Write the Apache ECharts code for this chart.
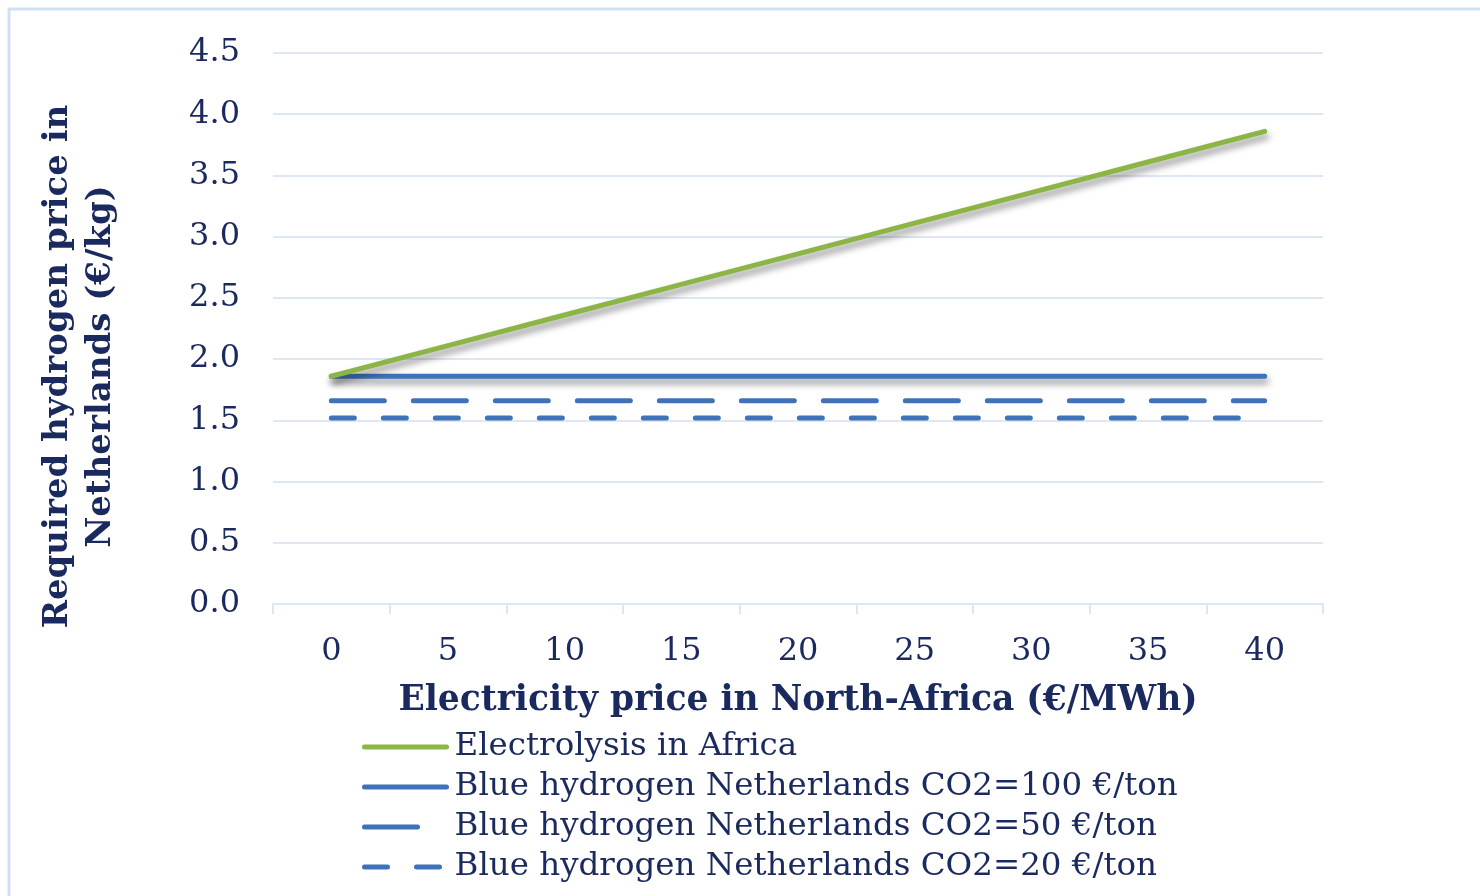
<!DOCTYPE html>
<html>
<head>
<meta charset="utf-8">
<script src="https://cdn.jsdelivr.net/npm/echarts@6/dist/echarts.min.js"></script>
<style>
  html, body { margin: 0; padding: 0; background: #ffffff; }
  #chart { width: 1480px; height: 896px; }
</style>
</head>
<body>
<div id="chart"></div>
<script>
// Electricity price in North-Africa (€/MWh)
var categories = ['0', '5', '10', '15', '20', '25', '30', '35', '40'];

// Required hydrogen price in the Netherlands (€/kg)
var electrolysisAfrica = [1.86, 2.11, 2.36, 2.61, 2.86, 3.11, 3.36, 3.61, 3.86];
var blueCO2_100 = [1.86, 1.86, 1.86, 1.86, 1.86, 1.86, 1.86, 1.86, 1.86];
var blueCO2_50 = [1.66, 1.66, 1.66, 1.66, 1.66, 1.66, 1.66, 1.66, 1.66];
var blueCO2_20 = [1.52, 1.52, 1.52, 1.52, 1.52, 1.52, 1.52, 1.52, 1.52];

var seriesNames = [
  'Electrolysis in Africa',
  'Blue hydrogen Netherlands CO2=100 €/ton',
  'Blue hydrogen Netherlands CO2=50 €/ton',
  'Blue hydrogen Netherlands CO2=20 €/ton'
];

var navy = '#1b2a5e';
var grid = '#dde7f3';
var green = '#8cb545';
var blue = '#3f72b9';
var font = 'DejaVu Serif';

var shadow = {
  shadowColor: 'rgba(0,0,0,0.45)',
  shadowBlur: 7,
  shadowOffsetX: 2,
  shadowOffsetY: 5
};

var chart = echarts.init(document.getElementById('chart'), null, { renderer: 'canvas' });

chart.setOption({
  backgroundColor: '#ffffff',
  animation: false,
  textStyle: { fontFamily: font, color: navy },
  graphic: [{
    type: 'rect',
    shape: { x: 9, y: 9, width: 1600, height: 1000 },
    style: { fill: 'none', stroke: '#d2e0f4', lineWidth: 3 },
    silent: true
  }],
  grid: { left: 273, right: 157, top: 53, bottom: 292, containLabel: false },
  legend: {
    orient: 'vertical',
    left: 362,
    top: 729,
    height: 160,
    padding: 0,
    itemWidth: 82,
    itemHeight: 20,
    itemGap: 4,
    itemStyle: { opacity: 0 },
    lineStyle: { width: 5, cap: 'round' },
    textStyle: { fontFamily: font, fontSize: 32.5, color: navy, lineHeight: 36, padding: [0, 0, 0, 3] },
    data: seriesNames
  },
  xAxis: {
    type: 'category',
    data: categories,
    boundaryGap: true,
    axisLine: { show: true, lineStyle: { color: grid, width: 2 } },
    axisTick: { show: true, length: 10, lineStyle: { color: grid, width: 2 } },
    axisLabel: { margin: 32, fontSize: 32, color: navy, fontFamily: font },
    splitLine: { show: false },
    name: 'Electricity price in North-Africa (€/MWh)',
    nameLocation: 'middle',
    nameGap: 80,
    nameTextStyle: { fontFamily: font, fontSize: 34.5, fontWeight: 'bold', color: navy }
  },
  yAxis: {
    type: 'value',
    min: 0,
    max: 4.5,
    interval: 0.5,
    axisLine: { show: false },
    axisTick: { show: false },
    axisLabel: {
      margin: 33,
      fontSize: 32,
      color: navy,
      fontFamily: font,
      formatter: function (v) { return v.toFixed(1); }
    },
    splitLine: { show: true, lineStyle: { color: grid, width: 2 } },
    name: 'Required hydrogen price in\nNetherlands (€/kg)',
    nameLocation: 'middle',
    nameGap: 150,
    nameTextStyle: {
      fontFamily: font, fontSize: 34, fontWeight: 'bold', color: navy,
      lineHeight: 43, padding: [0, 76, 0, 0]
    }
  },
  series: [
    {
      name: seriesNames[0], type: 'line', data: electrolysisAfrica,
      symbol: 'none', z: 5,
      lineStyle: Object.assign({ color: green, width: 5, cap: 'round' }, shadow),
      itemStyle: { color: green }
    },
    {
      name: seriesNames[1], type: 'line', data: blueCO2_100,
      symbol: 'none', z: 4,
      lineStyle: Object.assign({ color: blue, width: 5, cap: 'round' }, shadow),
      itemStyle: { color: blue }
    },
    {
      name: seriesNames[2], type: 'line', data: blueCO2_50,
      symbol: 'none', z: 3,
      lineStyle: { color: blue, width: 5, cap: 'round', type: [53, 29] },
      itemStyle: { color: blue }
    },
    {
      name: seriesNames[3], type: 'line', data: blueCO2_20,
      symbol: 'none', z: 3,
      lineStyle: { color: blue, width: 5, cap: 'round', type: [23, 29] },
      itemStyle: { color: blue }
    }
  ]
});
</script>
</body>
</html>
